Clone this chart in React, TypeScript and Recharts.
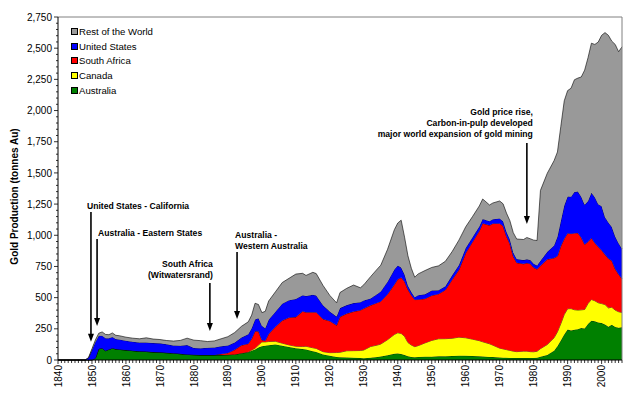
import React from "react";
import { AreaChart, Area, XAxis, YAxis, Legend, ReferenceLine } from "recharts";

// gold production by country, tonnes per year
const years = [
  1840, 1848, 1849, 1850, 1851, 1852, 1853, 1854, 1855, 1856,
  1857, 1858, 1860, 1862, 1864, 1866, 1868, 1870, 1872, 1874,
  1876, 1878, 1880, 1882, 1884, 1886, 1888, 1890, 1892, 1894,
  1896, 1897, 1898, 1899, 1900, 1901, 1902, 1904, 1906, 1908,
  1910, 1912, 1913, 1915, 1916, 1918, 1920, 1922, 1923, 1925,
  1927, 1929, 1930, 1932, 1934, 1935, 1937, 1939, 1940, 1941,
  1942, 1943, 1944, 1945, 1946, 1948, 1950, 1952, 1954, 1956,
  1958, 1960, 1962, 1964, 1965, 1967, 1968, 1970, 1971, 1972,
  1973, 1974, 1975, 1977, 1978, 1979, 1980, 1981, 1982, 1984,
  1986, 1987, 1988, 1989, 1990, 1991, 1992, 1993, 1994, 1995,
  1996, 1997, 1998, 1999, 2000, 2001, 2002, 2003, 2004, 2005,
  2006,
];

const australia = [
  0, 0, 0, 0, 15, 90, 95, 75, 85, 95,
  88, 85, 80, 75, 70, 68, 64, 62, 58, 55,
  50, 45, 42, 40, 40, 40, 40, 42, 45, 55,
  62, 75, 85, 100, 110, 115, 118, 125, 115, 105,
  95, 88, 85, 70, 65, 45, 35, 25, 22, 20,
  18, 16, 15, 18, 25, 28, 38, 50, 52, 48,
  40, 30, 25, 22, 25, 27, 27, 30, 31, 32,
  35, 34, 32, 30, 28, 25, 24, 20, 19, 18,
  17, 16, 16, 16, 16, 17, 17, 18, 27, 40,
  75, 110, 157, 205, 244, 236, 243, 247, 256, 253,
  289, 314, 310, 301, 296, 285, 266, 282, 265, 258,
  262,
];

const canada = [
  0, 0, 0, 0, 0, 0, 0, 0, 0, 0,
  0, 0, 0, 0, 0, 0, 0, 0, 0, 0,
  0, 0, 0, 0, 0, 0, 0, 0, 0, 0,
  2, 5, 10, 20, 35, 30, 30, 25, 20, 16,
  15, 20, 25, 28, 28, 22, 24, 35, 40, 54,
  57, 60, 65, 90, 95, 100, 125, 155, 166, 165,
  150, 110, 95, 85, 90, 110, 130, 140, 140, 142,
  148, 144, 135, 125, 118, 105, 95, 75, 70, 65,
  60, 55, 51, 55, 55, 50, 49, 52, 64, 84,
  103, 116, 135, 160, 167, 176, 160, 153, 146, 152,
  164, 171, 165, 158, 156, 160, 152, 141, 135, 129,
  119,
];

const southAfrica = [
  0, 0, 0, 0, 0, 0, 0, 0, 0, 0,
  0, 0, 0, 0, 0, 0, 0, 0, 0, 0,
  0, 0, 0, 0, 0, 1, 8, 15, 37, 63,
  67, 90, 135, 110, 15, 10, 60, 117, 181, 219,
  234, 282, 273, 285, 290, 261, 254, 218, 284, 298,
  313, 323, 333, 330, 340, 342, 365, 400, 430, 448,
  440, 425, 400, 377, 370, 355, 360, 360, 390, 470,
  540, 680, 780, 880, 950, 950, 975, 1000, 985, 910,
  855, 760, 713, 700, 706, 705, 675, 658, 664, 683,
  640, 607, 621, 608, 605, 601, 614, 619, 580, 522,
  495, 493, 464, 449, 428, 400, 395, 373, 330, 300,
  270,
];

const unitedStates = [
  0, 0, 18, 80, 130, 105, 100, 100, 90, 90,
  80, 80, 75, 72, 70, 72, 72, 72, 68, 62,
  65, 75, 55, 55, 58, 60, 62, 60, 58, 62,
  75, 85, 95, 105, 115, 100, 115, 120, 135, 140,
  145, 130, 130, 140, 135, 110, 75, 70, 70, 68,
  68, 65, 65, 55, 70, 80, 100, 120, 110, 80,
  55, 30, 25, 20, 35, 35, 40, 30, 30, 35,
  38, 40, 38, 35, 35, 33, 35, 40, 38, 35,
  35, 30, 30, 30, 30, 30, 30, 30, 40, 60,
  100, 155, 201, 265, 294, 296, 330, 331, 327, 317,
  326, 362, 366, 341, 353, 300, 290, 270, 260, 250,
  240,
];

const restOfWorld = [
  0, 0, 2, 10, 15, 20, 30, 30, 28, 32,
  30, 30, 28, 28, 30, 38, 32, 30, 30, 35,
  42, 55, 62, 60, 50, 52, 60, 70, 80, 90,
  100, 105, 130, 110, 105, 135, 150, 160, 170, 175,
  200, 175, 165, 180, 175, 160, 130, 110, 125, 135,
  145, 115, 125, 175, 200, 210, 260, 320, 340, 380,
  300, 240, 190, 160, 170, 190, 185, 195, 200, 190,
  200, 170, 165, 165, 160, 130, 130, 140, 140, 150,
  150, 160, 160, 165, 175, 170, 190, 200, 565, 630,
  680, 680, 760, 840, 850, 870, 900, 910, 960, 1080,
  1150, 1200, 1225, 1300, 1370, 1480, 1500, 1490, 1540, 1535,
  1620,
];

const yearLabels = [1840, 1850, 1860, 1870, 1880, 1890, 1900, 1910, 1920, 1930, 1940, 1950, 1960, 1970, 1980, 1990, 2000];
const valueLabels = [0, 250, 500, 750, 1000, 1250, 1500, 1750, 2000, 2250, 2500, 2750];

const series = [
  { key: "australia", name: "Australia", color: "#008000" },
  { key: "canada", name: "Canada", color: "#ffff00" },
  { key: "southAfrica", name: "South Africa", color: "#ff0000" },
  { key: "unitedStates", name: "United States", color: "#0000ff" },
  { key: "restOfWorld", name: "Rest of the World", color: "#999999" },
];

const data = years.map((year, i) => ({
  year,
  australia: australia[i],
  canada: canada[i],
  southAfrica: southAfrica[i],
  unitedStates: unitedStates[i],
  restOfWorld: restOfWorld[i],
}));

const firstYear = 1840;
const lastYear = 2006;
const yMax = 2750;
const yearTicks = Array.from({ length: lastYear - firstYear + 1 }, (_, i) => firstYear + i);
const valueTicks = Array.from({ length: yMax / 50 + 1 }, (_, i) => i * 50);

// arrows: x in years, from/to in tonnes; text placed relative to arrow start
const notes = [
  { lines: ["United States - California"], year: 1849.7, from: 1186, to: 147, anchor: "start", dx: -4, dy: -3 },
  { lines: ["Australia - Eastern States"], year: 1851.5, from: 970, to: 273, anchor: "start", dx: 1, dy: -3 },
  { lines: ["South Africa", "(Witwatersrand)"], year: 1884.7, from: 617, to: 233, anchor: "end", dx: 3, dy: -5 },
  { lines: ["Australia -", "Western Australia"], year: 1892.7, from: 866, to: 329, anchor: "start", dx: -2, dy: -3 },
  { lines: ["Gold price rise,", "Carbon-in-pulp developed", "major world expansion of gold mining"], year: 1978, from: 1740, to: 1090, anchor: "end", dx: 6, dy: -6 },
];

const font = "'Liberation Sans', Arial, sans-serif";

function YearTick(props: any) {
  const { x, y, payload } = props;
  const v = payload.value;
  const major = yearLabels.includes(v);
  return (
    <g>
      <line x1={x} y1={y} x2={x} y2={y + (major ? 4 : 3)} stroke="#000" strokeWidth={0.8} />
      {major && (
        <text transform={`translate(${x + 3.6},${y + 5}) rotate(-90)`} textAnchor="end" fontSize={10} fill="#000" fontFamily={font}>
          {v}
        </text>
      )}
    </g>
  );
}

function ValueTick(props: any) {
  const { x, y, payload } = props;
  const v = payload.value;
  const major = valueLabels.includes(v);
  return (
    <g>
      <line x1={x - (major ? 4 : 2)} y1={y} x2={x} y2={y} stroke="#000" strokeWidth={0.8} />
      {major && (
        <text x={x - 6} y={y} dy={3.6} textAnchor="end" fontSize={10} fill="#000" fontFamily={font}>
          {v.toLocaleString("en-US")}
        </text>
      )}
    </g>
  );
}

function arrowShape(note: any) {
  return (p: any) => {
    const { x1, y1, x2, y2 } = p;
    const head = 8;
    return (
      <g>
        <line x1={x1} y1={y1} x2={x2} y2={y2 - head + 1} stroke="#000" strokeWidth={1.6} />
        <polygon points={`${x2 - 3},${y2 - head} ${x2 + 3},${y2 - head} ${x2},${y2}`} fill="#000" />
        {note.lines.map((t: string, i: number) => (
          <text
            key={t}
            x={x1 + note.dx}
            y={y1 + note.dy - (note.lines.length - 1 - i) * 11.2}
            textAnchor={note.anchor}
            fontSize={8.6}
            fontWeight="bold"
            fill="#000"
            fontFamily={font}
          >
            {t}
          </text>
        ))}
      </g>
    );
  };
}

function LegendBox() {
  return (
    <div style={{ fontFamily: font, fontSize: 9.6, color: "#000" }}>
      {[...series].reverse().map((s) => (
        <div key={s.key} style={{ display: "flex", alignItems: "center", height: 14.8 }}>
          <span style={{ width: 5, height: 5, background: s.color, border: "1px solid #000", marginRight: 1 }} />
          <span>{s.name}</span>
        </div>
      ))}
    </div>
  );
}

export default function App() {
  return (
    <div style={{ width: 640, height: 394, background: "#fff" }}>
      <style>{"body{margin:0}"}</style>
      <AreaChart width={640} height={394} data={data} margin={{ top: 17, right: 18, bottom: 0, left: 0 }} style={{ fontFamily: font }}>
        <XAxis
          dataKey="year"
          type="number"
          domain={[firstYear, lastYear]}
          ticks={yearTicks}
          interval={0}
          height={34}
          tickLine={false}
          tickSize={0}
          tickMargin={0}
          tick={YearTick}
          axisLine={{ stroke: "#000", strokeWidth: 1 }}
          allowDecimals={false}
        />
        <YAxis
          type="number"
          domain={[0, yMax]}
          ticks={valueTicks}
          interval={0}
          width={58}
          tickLine={false}
          tickSize={0}
          tickMargin={0}
          tick={ValueTick}
          axisLine={{ stroke: "#000", strokeWidth: 1 }}
          label={{
            content: ({ viewBox }: any) => (
              <text
                transform={`translate(${viewBox.x + 17.5},${viewBox.y + viewBox.height / 2 + 8}) rotate(-90)`}
                textAnchor="middle"
                fontSize={10}
                fontWeight="bold"
                fill="#000"
                fontFamily={font}
              >
                Gold Production (tonnes Au)
              </text>
            ),
          }}
        />
        {series.map((s) => (
          <Area
            key={s.key}
            type="linear"
            dataKey={s.key}
            name={s.name}
            stackId="gold"
            fill={s.color}
            fillOpacity={1}
            stroke="#000"
            strokeWidth={0.6}
            dot={false}
            activeDot={false}
            isAnimationActive={false}
          />
        ))}
        <ReferenceLine y={yMax} stroke="#808080" strokeWidth={1} />
        <ReferenceLine x={lastYear} stroke="#808080" strokeWidth={1} />
        {notes.map((n) => (
          <ReferenceLine
            key={n.lines[0]}
            segment={[{ x: n.year, y: n.from }, { x: n.year, y: n.to }]}
            shape={arrowShape(n)}
          />
        ))}
        <Legend
          layout="horizontal"
          verticalAlign="middle"
          align="center"
          content={() => <LegendBox />}
          wrapperStyle={{ left: 71, top: 24, width: 120, height: 75 }}
        />
      </AreaChart>
    </div>
  );
}
